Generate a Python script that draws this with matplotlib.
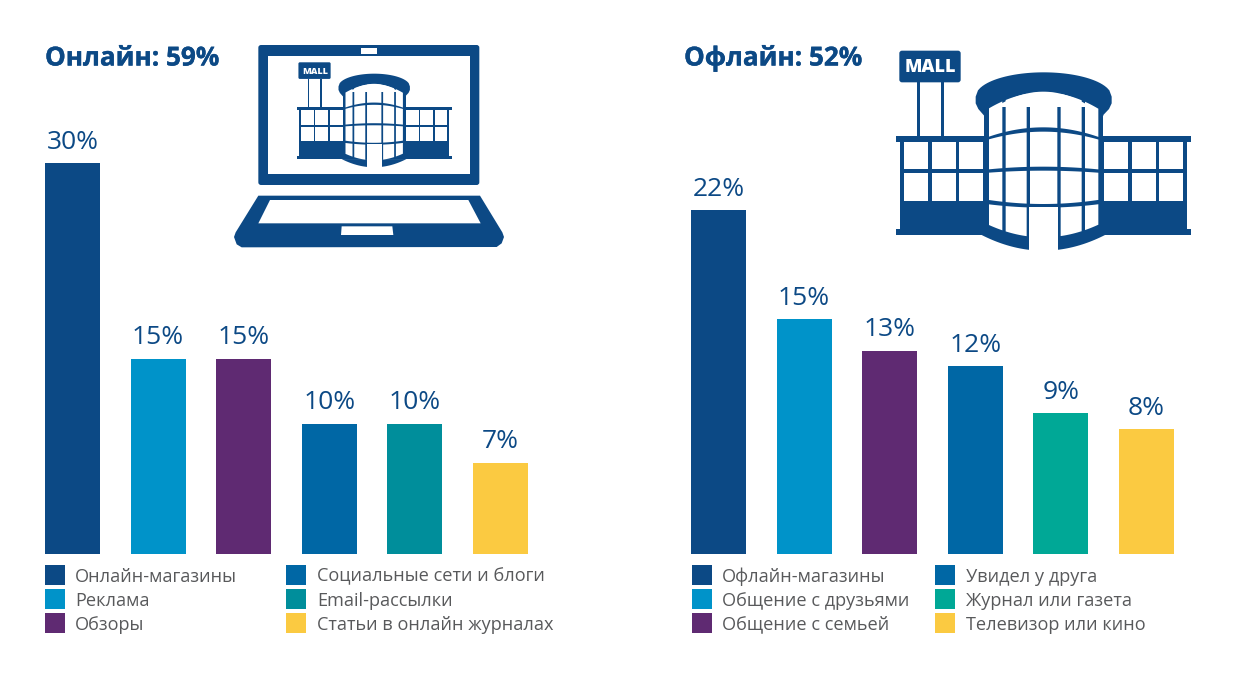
import numpy as np
from matplotlib import pyplot as plt
from matplotlib import patheffects as pe
from matplotlib.patches import Rectangle, Polygon, FancyBboxPatch

W, H = 1239, 690
NAVY = '#0c4985'
GREY = '#58595b'

online_title = 'Онлайн: 59%'
online_labels = ['Онлайн-магазины', 'Реклама', 'Обзоры',
                 'Социальные сети и блоги', 'Email-рассылки', 'Статьи в онлайн журналах']
online_values = [30, 15, 15, 10, 10, 7]
online_colors = ['#0c4985', '#0093c9', '#5f2a72', '#0067a5', '#008e9b', '#fbca41']

offline_title = 'Офлайн: 52%'
offline_labels = ['Офлайн-магазины', 'Общение с друзьями', 'Общение с семьей',
                  'Увидел у друга', 'Журнал или газета', 'Телевизор или кино']
offline_values = [22, 15, 13, 12, 9, 8]
offline_colors = ['#0c4985', '#0093c9', '#5f2a72', '#0067a5', '#00a896', '#fbca41']

plt.rcParams['font.family'] = ['Open Sans', 'DejaVu Sans']

fig = plt.figure(figsize=(W / 100, H / 100), dpi=100)
fig.patch.set_facecolor('white')

# overlay in pixel coords for icons, titles and the legends
px = fig.add_axes([0, 0, 1, 1], zorder=5)
px.set_xlim(0, W)
px.set_ylim(H, 0)
px.axis('off')
px.patch.set_alpha(0)


def bars(values, colors, first_px, px_per_pct):
    step = 85.55
    left, right, top, base = first_px - 30, first_px + 520, 60, 554
    ax = fig.add_axes([left / W, 1 - base / H, (right - left) / W, (base - top) / H])
    ax.set_xlim((left - first_px) / step, (right - first_px) / step)
    ax.set_ylim(0, (base - top) / px_per_pct)
    ax.axis('off')
    rects = ax.bar(range(len(values)), values, width=55 / step, color=colors)
    ax.bar_label(rects, labels=[f'{v}%' for v in values], padding=6,
                 color=NAVY, fontsize=19)


def legend(labels, colors, sw_x, text_x):
    rows = [575, 599, 623]
    for i, (lab, col) in enumerate(zip(labels, colors)):
        c = i // 3
        y = rows[i % 3]
        px.add_patch(Rectangle((sw_x[c], y - 10), 19.5, 20, color=col, lw=0))
        px.text(text_x[c], y + 1.5, lab, color=GREY, fontsize=13.1, va='center', ha='left')


def curve(x, c, e, half=163.0):
    return c + (e - c) * ((x - 475) / half) ** 2


def mall(x0, y0, s, sign_size):
    # shapes are in zoomed-crop units, mapped to pixels with offset and scale
    def T(u, v):
        return x0 + u * s, y0 + v * s

    def rect(u0, v0, u1, v1, col):
        a, b = T(u0, v0)
        px.add_patch(Rectangle((a, b), (u1 - u0) * s, (v1 - v0) * s, color=col, lw=0))

    def poly(pts, col):
        px.add_patch(Polygon([T(u, v) for u, v in pts], closed=True, color=col, lw=0))

    # sign
    a, b = T(47, 36)
    px.add_patch(FancyBboxPatch((a, b), 176 * s, 87 * s,
                                boxstyle=f'round,pad={4 * s},rounding_size={8 * s}',
                                color=NAVY, lw=0))
    a, b = T(136, 84)
    px.text(a, b, 'MALL', color='white', fontsize=sign_size, fontweight='extra bold',
            ha='center', va='center')
    rect(95, 127, 105, 290, NAVY)
    rect(167, 127, 177, 290, NAVY)

    # wings
    rect(33, 288, 918, 305, NAVY)
    rect(33, 568, 918, 585, NAVY)
    rect(45, 288, 905, 570, NAVY)
    for us in [(57, 130), (140, 212), (222, 295), (657, 730), (740, 812), (822, 893)]:
        rect(us[0], 305, us[1], 388, 'white')
        rect(us[0], 400, us[1], 483, 'white')

    # tower body and canopy
    xs = np.linspace(272, 680, 60)
    arc_top = [(x, 170 - 73 * (1 - ((x - 476) / 204.0) ** 2) ** 0.5) for x in xs]
    xb = np.linspace(655, 297, 40)
    arc_low = [(x, curve(x, 155, 215)) for x in xb]
    poly(arc_top + [(680, 190), (672, 207), (655, 225)] + arc_low
         + [(280, 207), (272, 190)], NAVY)
    rect(297, 200, 655, 585, NAVY)
    xb = np.linspace(660, 290, 50)
    poly([(x, curve(x, 632, 585, 185.0)) for x in xb], NAVY)

    cols = [(312, 352), (362, 425), (435, 517), (527, 590), (600, 640)]
    rows = [((157, 205), (262, 290)), ((275, 298), (380, 388)),
            ((392, 398), (492, 480)), ((503, 493), (592, 555))]
    for j, (tp, bt) in enumerate(rows):
        for k, (u0, u1) in enumerate(cols):
            if j == 3 and k == 2:
                continue
            xx = np.linspace(u0, u1, 12)
            top = [(x, curve(x, *tp)) for x in xx]
            bot = [(x, curve(x, *bt)) for x in xx[::-1]]
            poly(top + bot, 'white')
    # door gap
    rect(433, 500, 518, 640, 'white')


def laptop(x0, y0, s):
    def T(u, v):
        return x0 + u * s, y0 + v * s

    a, b = T(85, 30)
    px.add_patch(FancyBboxPatch((a, b), 663 * s, 420 * s,
                                boxstyle=f'round,pad=0,rounding_size={8 * s}',
                                color=NAVY, lw=0))
    a, b = T(115, 64)
    px.add_patch(Rectangle((a, b), 605 * s, 354 * s, color='white', lw=0))
    a, b = T(393, 40)
    px.add_patch(Rectangle((a, b), 48 * s, 16 * s, color='white', lw=0))
    base = [(85, 482), (750, 482), (817, 592), (822, 606), (815, 625), (800, 636),
            (35, 637), (20, 628), (12, 606), (17, 592)]
    px.add_patch(Polygon([T(u, v) for u, v in base], closed=True, color=NAVY, lw=0))
    keys = [(120, 495), (715, 495), (752, 565), (85, 565)]
    px.add_patch(Polygon([T(u, v) for u, v in keys], closed=True, color='white', lw=0))
    pad = [(335, 574), (487, 574), (490, 600), (333, 600)]
    px.add_patch(Polygon([T(u, v) for u, v in pad], closed=True, color='white', lw=0))


bars(online_values, online_colors, 72.5, 13.03)
bars(offline_values, offline_colors, 718.5, 15.64)

legend(online_labels, online_colors, [45, 286], [75, 317])
legend(offline_labels, offline_colors, [692, 935], [722, 966])

thick = [pe.withStroke(linewidth=0.25, foreground=NAVY)]
px.text(45, 58, online_title, color=NAVY, fontsize=18.8, fontweight='bold',
        va='center', path_effects=thick)
px.text(684, 58, offline_title, color=NAVY, fontsize=18.8, fontweight='bold',
        va='center', path_effects=thick)

laptop(230, 35, 1 / 3)
mall(885, 40, 1 / 3, 13)
mall(290.9, 56.7, 0.175, 6.5)

fig.savefig('out.png', dpi=100)
